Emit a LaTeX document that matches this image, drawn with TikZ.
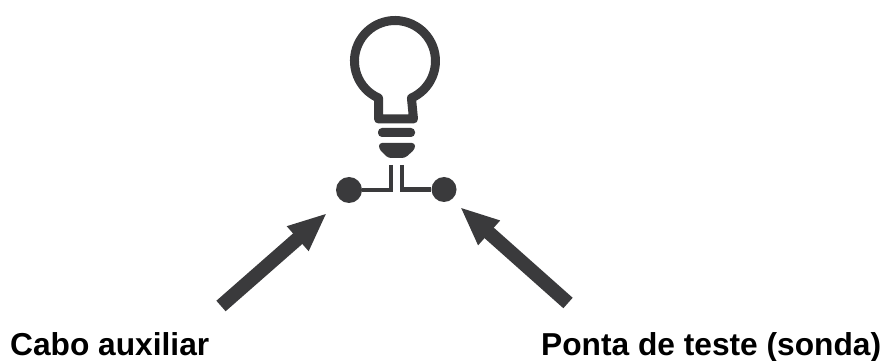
\documentclass[tikz,border=0pt]{standalone}
\usepackage{fontspec}
\setmainfont{Liberation Sans}
\usetikzlibrary{arrows.meta,positioning,calc}
\definecolor{ink}{HTML}{3A3A3C}

\begin{document}
\begin{tikzpicture}[x=1pt,y=1pt,>=Latex,
 lbl/.style={inner sep=0pt,anchor=base west,font=\fontsize{31.7}{36}\selectfont\bfseries},
 term/.style={circle,fill=ink,inner sep=0pt},
 wire/.style={draw=ink,line width=4.5pt},
 a/.style={-{Triangle[length=39pt,width=30pt]},line width=14pt,color=ink}]
 \useasboundingbox (0,0) rectangle (888,361);
 % bulb
 \draw[ink,line width=9pt,line join=round] (378.5,263) arc[start angle=246,end angle=-66,radius=40.5] -- (413.5,242) -- (378.5,242) -- cycle;
 \fill[ink,rounded corners=4pt] (378,233) rectangle (415,224);
 \fill[ink,rounded corners=3pt] (379,218) -- (415,218) -- (415,212) -- (405,203) -- (388,203) -- (379,212) -- cycle;
 % terminals
 \node[term,minimum size=26pt] (t1) at (349,171) {};
 \node[term,minimum size=25pt] (t2) at (444,171.5) {};
 \coordinate (r1) at (391,196);
 \coordinate (r2) at (402,196);
 \draw[wire,line join=miter] (r1) |- (t1);
 \draw[wire,line join=miter] (r2) |- (t2);
 % arrows
 \coordinate (c1) at (221,55);
 \coordinate (p1) at (327,148);
 \coordinate (c2) at (568,58);
 \coordinate (p2) at (460,154);
 \draw[a] (c1) -- (p1);
 \draw[a] (c2) -- (p2);
 \node[lbl] (cabo) at (10,5) {Cabo auxiliar};
 \node[lbl] (ponta) at (541,5) {Ponta de teste (sonda)};
\end{tikzpicture}
\end{document}
